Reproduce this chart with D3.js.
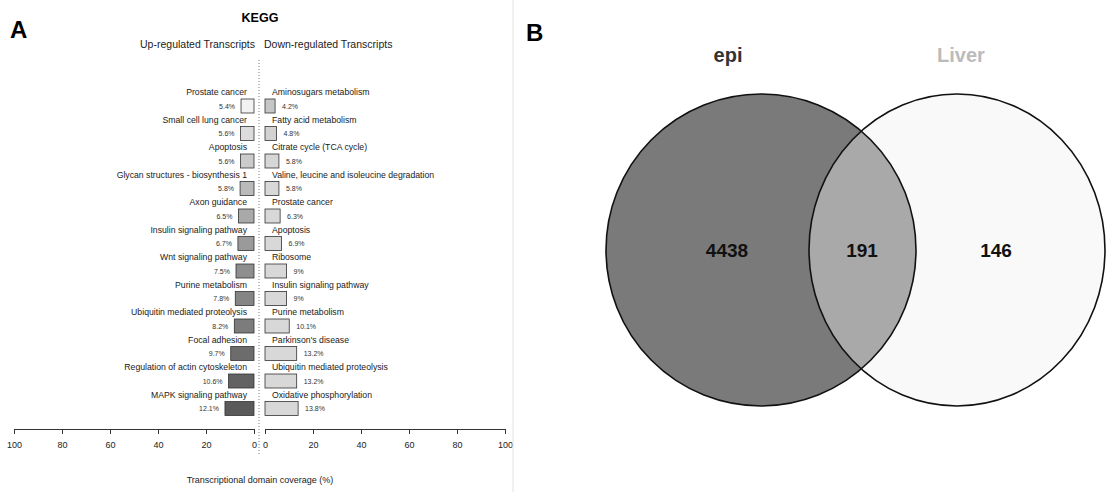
<!DOCTYPE html>
<html>
<head>
<meta charset="utf-8">
<script src="https://cdn.jsdelivr.net/npm/d3@7"></script>
<style>
  body { margin: 0; background: #fff; }
  text { font-family: "Liberation Sans", Arial, sans-serif; }
</style>
</head>
<body>
<div id="chart"></div>
<script>
const width = 1109;
const height = 492;

// panel A: KEGG pathways
const upLabels = ["Prostate cancer", "Small cell lung cancer", "Apoptosis", "Glycan structures - biosynthesis 1",
    "Axon guidance", "Insulin signaling pathway", "Wnt signaling pathway", "Purine metabolism",
    "Ubiquitin mediated proteolysis", "Focal adhesion", "Regulation of actin cytoskeleton", "MAPK signaling pathway"];
const upValues = [5.4, 5.6, 5.6, 5.8, 6.5, 6.7, 7.5, 7.8, 8.2, 9.7, 10.6, 12.1];
const upText = ["5.4%", "5.6%", "5.6%", "5.8%", "6.5%", "6.7%", "7.5%", "7.8%", "8.2%", "9.7%", "10.6%", "12.1%"];
const upColors = ["#f2f2f2", "#dcdcdc", "#cbcbcb", "#bababa", "#a9a9a9", "#9a9a9a",
    "#8e8e8e", "#858585", "#7c7c7c", "#6c6c6c", "#626262", "#5a5a5a"];

const downLabels = ["Aminosugars metabolism", "Fatty acid metabolism", "Citrate cycle (TCA cycle)",
    "Valine, leucine and isoleucine degradation", "Prostate cancer", "Apoptosis", "Ribosome",
    "Insulin signaling pathway", "Purine metabolism", "Parkinson's disease", "Ubiquitin mediated proteolysis",
    "Oxidative phosphorylation"];
const downValues = [4.2, 4.8, 5.8, 5.8, 6.3, 6.9, 9, 9, 10.1, 13.2, 13.2, 13.8];
const downText = ["4.2%", "4.8%", "5.8%", "5.8%", "6.3%", "6.9%", "9%", "9%", "10.1%", "13.2%", "13.2%", "13.8%"];
const downColors = ["#c6c6c6", "#d2d2d2", "#d6d6d6", "#d8d8d8", "#d8d8d8", "#d8d8d8",
    "#d8d8d8", "#d8d8d8", "#d8d8d8", "#d8d8d8", "#d8d8d8", "#d8d8d8"];

const axisTicks = [0, 20, 40, 60, 80, 100];

// panel B: venn
const vennSets = ["epi", "Liver"];
const vennCounts = [4438, 191, 146];

const svg = d3.select("#chart")
    .append("svg")
    .attr("width", width)
    .attr("height", height);

// ---- panel A ----
const xLeft = d3.scaleLinear().domain([100, 0]).range([14, 254]);
const xRight = d3.scaleLinear().domain([0, 100]).range([265, 505]);
const y = d3.scaleBand().domain(d3.range(upLabels.length)).range([85, 85 + 27.5 * 12]);

svg.append("text").attr("x", 10).attr("y", 38)
    .attr("font-size", 24).attr("font-weight", "bold").text("A");
svg.append("text").attr("x", 260).attr("y", 22).attr("text-anchor", "middle")
    .attr("font-size", 12.5).attr("font-weight", "bold").text("KEGG");
svg.append("text").attr("x", 255).attr("y", 48).attr("text-anchor", "end")
    .attr("font-size", 10.5).attr("fill", "#222").text("Up-regulated Transcripts");
svg.append("text").attr("x", 264).attr("y", 48)
    .attr("font-size", 10.5).attr("fill", "#222").text("Down-regulated Transcripts");

svg.append("line")
    .attr("x1", 259).attr("x2", 259).attr("y1", 60).attr("y2", 455)
    .attr("stroke", "#555").attr("stroke-width", 0.8).attr("stroke-dasharray", "1,2");

// left bars
svg.selectAll(".upbar").data(upValues).join("rect")
    .attr("class", "upbar")
    .attr("x", d => xLeft(d))
    .attr("y", (d, i) => y(i) + 14)
    .attr("width", d => xLeft(0) - xLeft(d))
    .attr("height", 14)
    .attr("fill", (d, i) => upColors[i])
    .attr("stroke", "#333").attr("stroke-width", 0.8);

svg.selectAll(".uplab").data(upLabels).join("text")
    .attr("class", "uplab")
    .attr("x", 247).attr("y", (d, i) => y(i) + 10)
    .attr("text-anchor", "end").attr("font-size", 8.7).attr("fill", "#1a1a1a")
    .text(d => d);

svg.selectAll(".uppct").data(upValues).join("text")
    .attr("class", "uppct")
    .attr("x", d => xLeft(d) - 6).attr("y", (d, i) => y(i) + 23.5)
    .attr("text-anchor", "end").attr("font-size", 7).attr("fill", "#333")
    .text((d, i) => upText[i]);

// right bars
svg.selectAll(".dnbar").data(downValues).join("rect")
    .attr("class", "dnbar")
    .attr("x", xRight(0))
    .attr("y", (d, i) => y(i) + 14)
    .attr("width", d => xRight(d) - xRight(0))
    .attr("height", 14)
    .attr("fill", (d, i) => downColors[i])
    .attr("stroke", "#333").attr("stroke-width", 0.8);

svg.selectAll(".dnlab").data(downLabels).join("text")
    .attr("class", "dnlab")
    .attr("x", 272).attr("y", (d, i) => y(i) + 10)
    .attr("font-size", 8.7).attr("fill", "#1a1a1a")
    .text(d => d);

svg.selectAll(".dnpct").data(downValues).join("text")
    .attr("class", "dnpct")
    .attr("x", d => xRight(d) + 7).attr("y", (d, i) => y(i) + 23.5)
    .attr("font-size", 7).attr("fill", "#333")
    .text((d, i) => downText[i]);

// axes
[xLeft, xRight].forEach(sc => {
    const g = svg.append("g")
        .attr("transform", "translate(0,429)")
        .call(d3.axisBottom(sc).tickValues(axisTicks).tickSize(5).tickPadding(8).tickSizeOuter(0));
    g.select(".domain").attr("stroke", "#333");
    g.selectAll(".tick line").attr("stroke", "#333");
    g.selectAll(".tick text").attr("font-size", 9).attr("fill", "#222")
        .attr("font-family", "Liberation Sans, Arial, sans-serif");
});

svg.append("text").attr("x", 260).attr("y", 483).attr("text-anchor", "middle")
    .attr("font-size", 9).attr("fill", "#222").text("Transcriptional domain coverage (%)");

// separator
svg.append("line").attr("x1", 513).attr("x2", 513).attr("y1", 0).attr("y2", height)
    .attr("stroke", "#e2e2e2").attr("stroke-width", 1);

// ---- panel B ----
svg.append("text").attr("x", 526).attr("y", 41)
    .attr("font-size", 24).attr("font-weight", "bold").text("B");

const ellipses = [
    { cx: 761, cy: 250, rx: 155, ry: 156 },
    { cx: 957, cy: 250, rx: 148, ry: 156 }
];

const defs = svg.append("defs");
defs.append("clipPath").attr("id", "clipLeft")
    .append("ellipse")
    .attr("cx", ellipses[0].cx).attr("cy", ellipses[0].cy)
    .attr("rx", ellipses[0].rx).attr("ry", ellipses[0].ry);

svg.append("ellipse")
    .attr("cx", ellipses[0].cx).attr("cy", ellipses[0].cy)
    .attr("rx", ellipses[0].rx).attr("ry", ellipses[0].ry)
    .attr("fill", "#7a7a7a");
svg.append("ellipse")
    .attr("cx", ellipses[1].cx).attr("cy", ellipses[1].cy)
    .attr("rx", ellipses[1].rx).attr("ry", ellipses[1].ry)
    .attr("fill", "#f9f9f9");
svg.append("ellipse")
    .attr("clip-path", "url(#clipLeft)")
    .attr("cx", ellipses[1].cx).attr("cy", ellipses[1].cy)
    .attr("rx", ellipses[1].rx).attr("ry", ellipses[1].ry)
    .attr("fill", "#a9a9a9");
svg.selectAll(".venn-outline").data(ellipses).join("ellipse")
    .attr("class", "venn-outline")
    .attr("cx", d => d.cx).attr("cy", d => d.cy)
    .attr("rx", d => d.rx).attr("ry", d => d.ry)
    .attr("fill", "none").attr("stroke", "#111").attr("stroke-width", 1.6);

const setLabelX = [728, 961];
const setLabelColor = ["#333", "#bbbbbb"];
svg.selectAll(".setlab").data(vennSets).join("text")
    .attr("class", "setlab")
    .attr("x", (d, i) => setLabelX[i]).attr("y", 62)
    .attr("text-anchor", "middle")
    .attr("font-family", "Roboto, sans-serif")
    .attr("font-size", 20).attr("font-weight", "bold")
    .attr("fill", (d, i) => setLabelColor[i])
    .text(d => d);

const countX = [727, 862, 996];
svg.selectAll(".count").data(vennCounts).join("text")
    .attr("class", "count")
    .attr("x", (d, i) => countX[i]).attr("y", 257)
    .attr("text-anchor", "middle")
    .attr("font-size", 19).attr("font-weight", "bold").attr("fill", "#111")
    .text(d => d);
</script>
</body>
</html>
